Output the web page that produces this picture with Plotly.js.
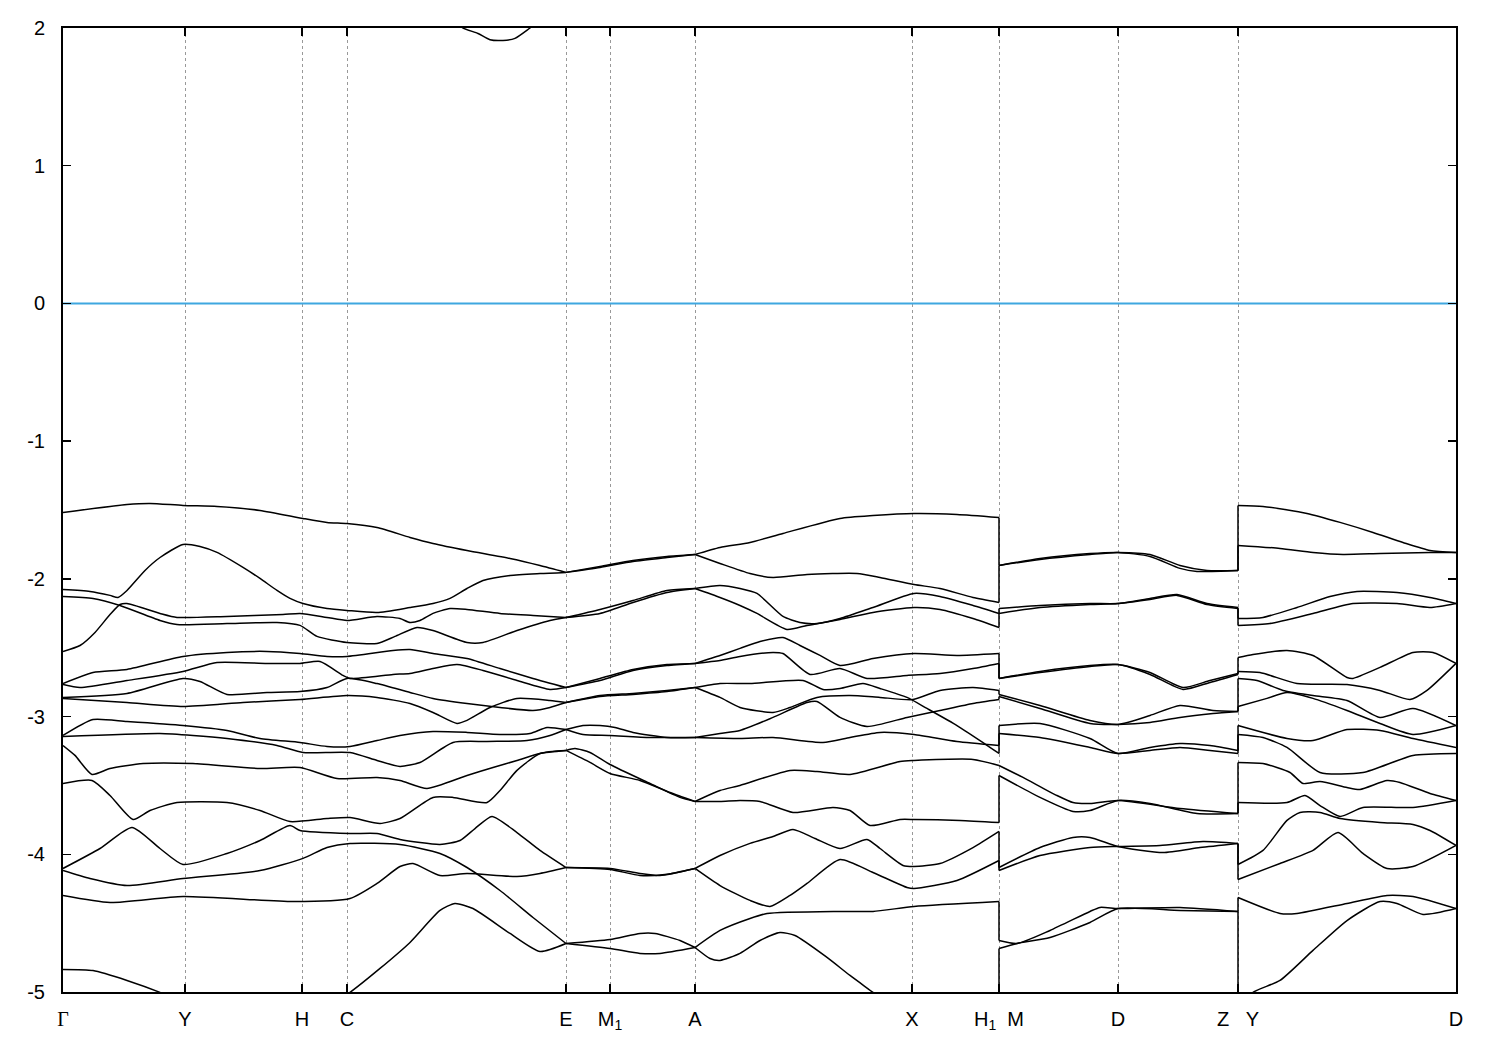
<!DOCTYPE html>
<html>
<head>
<meta charset="utf-8">
<script src="https://cdn.plot.ly/plotly-3.0.1.min.js"></script>
<style>html,body{margin:0;padding:0;background:#fff;}#plot{width:1500px;height:1050px;}</style>
</head>
<body>
<div id="plot"></div>
<script>
// k-path positions of the high-symmetry points (path-length units)
const kTicks = [0, 122, 239, 284, 503, 547, 632, 849, 936, 1055, 1175, 1393];
const kLabels = ['<span style="font-family:\'Liberation Serif\',serif">Γ</span>', 'Y', 'H', 'C', 'E', 'M<sub>1</sub>', 'A', 'X', 'H<sub>1</sub>\u00a0\u00a0M', 'D', 'Z\u00a0\u00a0\u00a0Y', 'D'];
const eTicks = [-5, -4, -3, -2, -1, 0, 1, 2];
const eLabels = ['-5', '-4', '-3', '-2', '-1', '0', '1', '2'];

// Bands Γ → E  ([k, E] pairs)
const bandsGE = [
 [[0,-1.518],[64,-1.460],[87,-1.452],[120,-1.467],[154,-1.474],[197,-1.503],[240,-1.561],[264,-1.590],[284,-1.598],[314,-1.627],[347,-1.699],[370,-1.743],[404,-1.794],[447,-1.852],[477,-1.903],[503,-1.953]],
 [[0,-2.077],[27,-2.091],[47,-2.120],[55,-2.135],[64,-2.084],[82,-1.939],[97,-1.845],[120,-1.750],[137,-1.765],[154,-1.808],[180,-1.917],[197,-1.997],[214,-2.084],[227,-2.142],[240,-2.179],[264,-2.215],[284,-2.229],[314,-2.244],[347,-2.208],[370,-2.179],[387,-2.142],[404,-2.070],[420,-2.012],[447,-1.975],[477,-1.961],[503,-1.953]],
 [[0,-2.527],[17,-2.484],[32,-2.389],[47,-2.259],[57,-2.186],[64,-2.179],[97,-2.251],[114,-2.280],[164,-2.273],[220,-2.259],[237,-2.251],[264,-2.280],[284,-2.302],[314,-2.273],[337,-2.288],[347,-2.317],[357,-2.302],[370,-2.251],[387,-2.215],[404,-2.222],[437,-2.251],[470,-2.266],[503,-2.280]],
 [[0,-2.128],[30,-2.142],[57,-2.193],[97,-2.302],[114,-2.331],[164,-2.324],[214,-2.317],[237,-2.338],[254,-2.418],[284,-2.462],[314,-2.469],[332,-2.418],[354,-2.353],[370,-2.375],[404,-2.462],[420,-2.462],[454,-2.375],[487,-2.302],[503,-2.280]],
 [[0,-2.760],[30,-2.680],[64,-2.658],[120,-2.563],[164,-2.534],[204,-2.527],[237,-2.542],[264,-2.563],[284,-2.563],[330,-2.520],[347,-2.513],[370,-2.542],[404,-2.578],[437,-2.651],[470,-2.723],[503,-2.789]],
 [[0,-2.767],[17,-2.789],[64,-2.738],[120,-2.672],[154,-2.607],[204,-2.614],[237,-2.614],[257,-2.600],[280,-2.701],[287,-2.723],[330,-2.694],[347,-2.687],[370,-2.651],[394,-2.622],[420,-2.665],[454,-2.738],[487,-2.803],[503,-2.789]],
 [[0,-2.861],[64,-2.832],[120,-2.723],[137,-2.745],[164,-2.839],[204,-2.825],[237,-2.818],[264,-2.789],[284,-2.723],[314,-2.760],[347,-2.825],[370,-2.868],[404,-2.905],[437,-2.934],[470,-2.956],[487,-2.934],[503,-2.898]],
 [[0,-2.868],[64,-2.898],[120,-2.927],[180,-2.898],[237,-2.876],[284,-2.847],[314,-2.861],[347,-2.905],[370,-2.970],[394,-3.050],[404,-3.028],[427,-2.934],[454,-2.868],[487,-2.883],[503,-2.898]],
 [[0,-3.137],[30,-3.021],[64,-3.036],[120,-3.065],[164,-3.101],[197,-3.159],[237,-3.188],[264,-3.217],[287,-3.217],[314,-3.174],[337,-3.137],[370,-3.108],[404,-3.115],[437,-3.130],[467,-3.123],[484,-3.079],[503,-3.094]],
 [[0,-3.144],[97,-3.123],[130,-3.137],[164,-3.159],[214,-3.210],[240,-3.261],[287,-3.261],[314,-3.319],[337,-3.362],[357,-3.333],[390,-3.188],[424,-3.181],[464,-3.174],[487,-3.137],[503,-3.094]],
 [[0,-3.210],[12,-3.282],[29,-3.420],[47,-3.377],[80,-3.341],[130,-3.341],[197,-3.377],[237,-3.370],[274,-3.450],[314,-3.442],[337,-3.464],[364,-3.522],[404,-3.428],[430,-3.370],[454,-3.319],[477,-3.268],[503,-3.246]],
 [[0,-3.486],[29,-3.464],[47,-3.573],[70,-3.747],[87,-3.682],[114,-3.624],[164,-3.624],[197,-3.682],[227,-3.762],[264,-3.740],[287,-3.733],[317,-3.776],[337,-3.740],[370,-3.587],[390,-3.587],[424,-3.624],[437,-3.537],[454,-3.391],[477,-3.268],[503,-3.246]],
 [[0,-4.103],[37,-3.958],[69,-3.805],[97,-3.958],[120,-4.074],[164,-3.994],[197,-3.900],[227,-3.791],[237,-3.827],[287,-3.849],[314,-3.849],[337,-3.892],[377,-3.929],[397,-3.900],[412,-3.813],[429,-3.725],[454,-3.842],[477,-3.972],[503,-4.096]],
 [[0,-4.118],[27,-4.176],[64,-4.227],[120,-4.176],[197,-4.118],[240,-4.030],[264,-3.951],[287,-3.921],[337,-3.929],[377,-3.994],[404,-4.096],[437,-4.263],[470,-4.459],[503,-4.648]],
 [[0,-4.299],[47,-4.350],[120,-4.306],[230,-4.343],[287,-4.321],[314,-4.212],[337,-4.089],[350,-4.067],[377,-4.154],[404,-4.139],[454,-4.161],[477,-4.139],[503,-4.096]],
 [[0,-4.836],[30,-4.844],[64,-4.916],[97,-5.003],[127,-5.10]],
 [[267,-5.10],[287,-5.003],[317,-4.829],[347,-4.640],[377,-4.408],[392,-4.357],[410,-4.394],[447,-4.575],[477,-4.706],[503,-4.648]]
];

// Bands E → A
const bandsEA = [
 [[503,-1.953],[537,-1.910],[570,-1.866],[604,-1.837],[632,-1.823]],
 [[503,-1.953],[537,-1.917],[570,-1.874],[604,-1.845],[632,-1.823]],
 [[503,-2.280],[537,-2.251],[570,-2.171],[604,-2.099],[632,-2.070]],
 [[503,-2.280],[537,-2.222],[570,-2.157],[604,-2.084],[632,-2.070]],
 [[503,-2.789],[537,-2.738],[570,-2.665],[604,-2.629],[632,-2.614]],
 [[503,-2.789],[537,-2.723],[570,-2.658],[604,-2.622],[632,-2.614]],
 [[503,-2.898],[537,-2.847],[570,-2.832],[604,-2.810],[632,-2.789]],
 [[503,-2.898],[537,-2.854],[570,-2.839],[604,-2.818],[632,-2.789]],
 [[503,-3.094],[520,-3.065],[537,-3.065],[552,-3.079],[570,-3.115],[604,-3.152],[632,-3.152]],
 [[503,-3.094],[520,-3.130],[547,-3.137],[587,-3.152],[632,-3.152]],
 [[503,-3.246],[512,-3.232],[527,-3.261],[547,-3.348],[587,-3.486],[617,-3.587],[632,-3.616]],
 [[503,-3.246],[527,-3.333],[547,-3.413],[577,-3.464],[607,-3.551],[632,-3.616]],
 [[503,-4.096],[547,-4.103],[577,-4.139],[597,-4.154],[632,-4.103]],
 [[503,-4.096],[547,-4.110],[577,-4.154],[602,-4.147],[632,-4.103]],
 [[503,-4.648],[547,-4.619],[577,-4.575],[592,-4.575],[617,-4.626],[632,-4.677]],
 [[503,-4.648],[547,-4.684],[577,-4.720],[597,-4.720],[632,-4.677]]
];

// Bands A → H1
const bandsAH = [
 [[632,-1.823],[657,-1.772],[687,-1.736],[720,-1.670],[777,-1.561],[810,-1.540],[851,-1.525],[894,-1.532],[936,-1.554]],
 [[632,-1.823],[657,-1.888],[687,-1.961],[710,-1.990],[744,-1.968],[794,-1.961],[817,-1.990],[851,-2.041],[877,-2.070],[910,-2.135],[936,-2.171]],
 [[632,-2.070],[657,-2.048],[677,-2.070],[694,-2.106],[720,-2.273],[737,-2.317],[754,-2.324],[777,-2.288],[810,-2.208],[851,-2.106],[877,-2.128],[910,-2.193],[936,-2.251]],
 [[632,-2.070],[657,-2.135],[677,-2.193],[694,-2.251],[724,-2.367],[744,-2.338],[777,-2.295],[810,-2.244],[851,-2.208],[877,-2.222],[910,-2.288],[936,-2.353]],
 [[632,-2.614],[657,-2.556],[677,-2.505],[697,-2.455],[720,-2.426],[737,-2.484],[757,-2.556],[777,-2.629],[810,-2.578],[851,-2.542],[894,-2.556],[936,-2.542]],
 [[632,-2.614],[657,-2.593],[677,-2.563],[710,-2.534],[720,-2.542],[747,-2.694],[777,-2.651],[804,-2.723],[844,-2.701],[877,-2.687],[910,-2.651],[936,-2.614]],
 [[632,-2.789],[657,-2.760],[687,-2.760],[740,-2.738],[760,-2.803],[777,-2.796],[800,-2.760],[817,-2.796],[844,-2.861],[864,-2.941],[894,-3.065],[917,-3.174],[936,-3.268]],
 [[632,-2.789],[657,-2.861],[677,-2.934],[710,-2.970],[727,-2.934],[754,-2.861],[787,-2.847],[817,-2.861],[850,-2.876],[877,-2.810],[910,-2.789],[936,-2.810]],
 [[632,-3.152],[657,-3.123],[677,-3.101],[710,-3.006],[744,-2.898],[754,-2.890],[777,-3.006],[804,-3.072],[844,-3.006],[877,-2.956],[910,-2.905],[936,-2.876]],
 [[632,-3.152],[677,-3.159],[710,-3.152],[760,-3.188],[787,-3.152],[817,-3.115],[851,-3.130],[894,-3.181],[936,-3.210]],
 [[632,-3.616],[657,-3.537],[677,-3.500],[727,-3.391],[754,-3.399],[787,-3.420],[837,-3.326],[851,-3.319],[910,-3.311],[936,-3.355]],
 [[632,-3.616],[657,-3.616],[677,-3.609],[697,-3.616],[730,-3.696],[770,-3.660],[787,-3.682],[807,-3.791],[837,-3.747],[851,-3.747],[897,-3.754],[936,-3.769]],
 [[632,-4.103],[657,-4.009],[687,-3.921],[710,-3.871],[730,-3.820],[752,-3.885],[777,-3.958],[804,-3.892],[817,-3.958],[840,-4.081],[851,-4.089],[877,-4.067],[910,-3.951],[936,-3.834]],
 [[632,-4.103],[657,-4.227],[687,-4.335],[707,-4.379],[727,-4.299],[744,-4.212],[777,-4.038],[810,-4.132],[844,-4.241],[851,-4.248],[894,-4.190],[936,-4.045]],
 [[632,-4.677],[657,-4.553],[687,-4.466],[704,-4.430],[777,-4.415],[810,-4.415],[851,-4.379],[936,-4.343]],
 [[632,-4.677],[647,-4.757],[657,-4.771],[677,-4.720],[697,-4.626],[717,-4.568],[732,-4.590],[764,-4.749],[787,-4.880],[810,-5.003],[837,-5.15],[936,-5.70]]
];

// Bands M → Z
const bandsMZ = [
 [[936,-1.903],[977,-1.852],[1027,-1.816],[1055,-1.808],[1087,-1.823],[1117,-1.903],[1144,-1.939],[1175,-1.939]],
 [[936,-1.903],[977,-1.859],[1027,-1.823],[1055,-1.808],[1087,-1.837],[1117,-1.924],[1134,-1.946],[1175,-1.939]],
 [[936,-2.215],[977,-2.193],[1027,-2.179],[1055,-2.179],[1087,-2.142],[1114,-2.113],[1144,-2.179],[1175,-2.208]],
 [[936,-2.251],[977,-2.208],[1027,-2.186],[1055,-2.179],[1087,-2.150],[1114,-2.120],[1144,-2.186],[1175,-2.215]],
 [[936,-2.723],[977,-2.672],[1027,-2.629],[1055,-2.622],[1087,-2.680],[1120,-2.789],[1147,-2.738],[1175,-2.687]],
 [[936,-2.723],[977,-2.680],[1027,-2.636],[1055,-2.622],[1087,-2.694],[1120,-2.803],[1147,-2.752],[1175,-2.694]],
 [[936,-2.839],[977,-2.919],[1027,-3.028],[1055,-3.057],[1087,-2.992],[1117,-2.919],[1150,-2.956],[1175,-2.963]],
 [[936,-2.854],[977,-2.941],[1027,-3.050],[1055,-3.057],[1087,-3.043],[1117,-3.006],[1150,-2.978],[1175,-2.963]],
 [[936,-3.065],[977,-3.050],[1027,-3.159],[1055,-3.268],[1087,-3.224],[1117,-3.195],[1147,-3.210],[1175,-3.246]],
 [[936,-3.123],[977,-3.152],[1027,-3.224],[1055,-3.268],[1087,-3.246],[1117,-3.224],[1147,-3.246],[1175,-3.268]],
 [[936,-3.355],[960,-3.442],[994,-3.573],[1010,-3.624],[1027,-3.631],[1055,-3.609],[1117,-3.667],[1175,-3.704]],
 [[936,-3.428],[977,-3.587],[1010,-3.689],[1027,-3.682],[1055,-3.609],[1087,-3.631],[1134,-3.704],[1175,-3.704]],
 [[936,-4.096],[977,-3.951],[1010,-3.878],[1027,-3.878],[1055,-3.943],[1100,-3.987],[1137,-3.951],[1175,-3.921]],
 [[936,-4.118],[977,-4.009],[1027,-3.951],[1055,-3.943],[1097,-3.936],[1140,-3.907],[1175,-3.921]],
 [[936,-4.626],[954,-4.648],[987,-4.553],[1027,-4.415],[1037,-4.386],[1055,-4.394],[1117,-4.386],[1175,-4.415]],
 [[936,-4.684],[954,-4.648],[987,-4.604],[1027,-4.495],[1055,-4.394],[1117,-4.408],[1175,-4.415]]
];

// Bands Y → D
const bandsYD = [
 [[1175,-1.467],[1200,-1.474],[1244,-1.525],[1277,-1.590],[1310,-1.663],[1340,-1.736],[1367,-1.794],[1393,-1.808]],
 [[1175,-1.757],[1217,-1.779],[1250,-1.808],[1280,-1.823],[1317,-1.816],[1367,-1.808],[1393,-1.808]],
 [[1175,-2.288],[1200,-2.280],[1234,-2.208],[1267,-2.128],[1294,-2.091],[1334,-2.099],[1367,-2.135],[1393,-2.179]],
 [[1175,-2.338],[1207,-2.324],[1250,-2.251],[1290,-2.179],[1334,-2.179],[1367,-2.208],[1393,-2.179]],
 [[1175,-2.571],[1190,-2.549],[1224,-2.520],[1250,-2.556],[1284,-2.716],[1290,-2.723],[1317,-2.643],[1350,-2.534],[1370,-2.534],[1393,-2.614]],
 [[1175,-2.672],[1197,-2.680],[1234,-2.760],[1284,-2.767],[1317,-2.810],[1347,-2.876],[1364,-2.810],[1393,-2.614]],
 [[1175,-2.723],[1194,-2.738],[1220,-2.810],[1250,-2.847],[1284,-2.883],[1317,-3.006],[1350,-2.941],[1393,-3.065]],
 [[1175,-2.927],[1204,-2.868],[1224,-2.825],[1250,-2.868],[1284,-2.956],[1317,-3.050],[1350,-3.130],[1393,-3.065]],
 [[1175,-3.065],[1224,-3.159],[1250,-3.174],[1284,-3.094],[1317,-3.101],[1350,-3.159],[1393,-3.224]],
 [[1175,-3.130],[1200,-3.152],[1224,-3.224],[1257,-3.406],[1300,-3.406],[1350,-3.282],[1393,-3.268]],
 [[1175,-3.333],[1200,-3.341],[1227,-3.406],[1240,-3.486],[1257,-3.471],[1284,-3.515],[1297,-3.529],[1324,-3.464],[1337,-3.478],[1367,-3.558],[1393,-3.609]],
 [[1175,-3.624],[1224,-3.624],[1242,-3.573],[1257,-3.646],[1277,-3.725],[1300,-3.660],[1350,-3.660],[1393,-3.609]],
 [[1175,-4.074],[1200,-3.972],[1224,-3.754],[1237,-3.696],[1257,-3.696],[1277,-3.740],[1317,-3.769],[1350,-3.783],[1367,-3.827],[1393,-3.936]],
 [[1175,-4.183],[1217,-4.067],[1250,-3.972],[1275,-3.842],[1300,-3.994],[1324,-4.103],[1350,-4.089],[1393,-3.936]],
 [[1175,-4.314],[1217,-4.430],[1234,-4.430],[1284,-4.357],[1324,-4.299],[1350,-4.306],[1393,-4.394]],
 [[1175,-5.13],[1190,-5.003],[1217,-4.916],[1250,-4.698],[1284,-4.481],[1317,-4.343],[1334,-4.357],[1360,-4.437],[1393,-4.394]]
];

// Lowest conduction band (dips just below 2 eV)
const bandCB = [[385,2.08],[400,2.0],[415,1.96],[427,1.915],[440,1.91],[452,1.925],[467,2.0],[482,2.08]];

// Fermi level
const fermiK = [0, 1393];
const fermiE = [0, 0];

// ---- build traces ----
const xs = [], ys = [];
function addCurves(list) {
  list.forEach(c => {
    c.forEach(p => { xs.push(p[0]); ys.push(p[1]); });
    xs.push(null); ys.push(null);
  });
}
[bandsGE, bandsEA, bandsAH, bandsMZ, bandsYD, [bandCB]].forEach(addCurves);

// vertical jumps at the path discontinuities (band i joins band i)
const jx = [], jy = [];
function addJump(left, right) {
  const ends = left.map(c => c[c.length - 1][1]).sort((a, b) => b - a);
  const starts = right.map(c => c[0][1]).sort((a, b) => b - a);
  const k = right[0][0][0];
  const n = Math.min(ends.length, starts.length);
  for (let i = 0; i < n; i++) {
    jx.push(k, k, null); jy.push(ends[i], starts[i], null);
  }
}
addJump(bandsAH, bandsMZ);
addJump(bandsMZ, bandsYD);

const traces = [
  { x: fermiK, y: fermiE, mode: 'lines', line: { color: '#3fa7e0', width: 2 }, hoverinfo: 'skip' },
  { x: xs, y: ys, mode: 'lines', line: { color: '#000000', width: 1.5, shape: 'spline', smoothing: 0.6 }, connectgaps: false, hoverinfo: 'skip' },
  { x: jx, y: jy, mode: 'lines', line: { color: '#000000', width: 1.5 }, connectgaps: false, hoverinfo: 'skip' }
];

const axisFont = { family: 'Liberation Sans, Arial, Helvetica, sans-serif', size: 20, color: '#000' };

const layout = {
  width: 1500, height: 1050,
  margin: { l: 63, r: 44, t: 28, b: 58, pad: 0 },
  paper_bgcolor: '#ffffff', plot_bgcolor: '#ffffff',
  showlegend: false,
  font: axisFont,
  xaxis: {
    range: [0, 1393], tickmode: 'array', tickvals: kTicks, ticktext: kLabels,
    ticks: 'inside', ticklen: 8, tickwidth: 1.5, tickcolor: '#000',
    showline: true, linecolor: '#000', linewidth: 2, mirror: 'ticks',
    showgrid: true, gridcolor: '#999999', gridwidth: 1, griddash: '3px,3px',
    zeroline: false, tickfont: axisFont, ticklabelstandoff: 8
  },
  yaxis: {
    range: [-5, 2], tickmode: 'array', tickvals: eTicks, ticktext: eLabels,
    ticks: 'inside', ticklen: 8, tickwidth: 1.5, tickcolor: '#000',
    showline: true, linecolor: '#000', linewidth: 2, mirror: 'ticks',
    showgrid: false, zeroline: false, tickfont: axisFont, ticklabelstandoff: 12
  }
};

Plotly.newPlot('plot', traces, layout, { staticPlot: true, displayModeBar: false });
</script>
</body>
</html>
